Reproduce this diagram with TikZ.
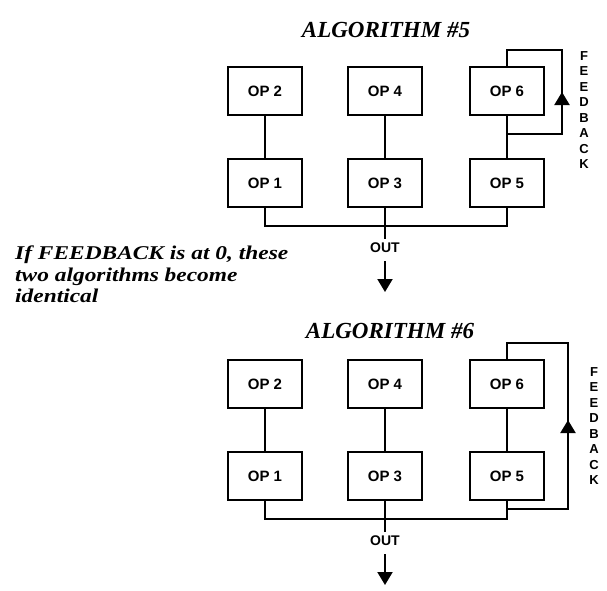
\documentclass[tikz,border=0pt]{standalone}
\usepackage{fontspec}
\setmainfont{Liberation Serif}
\setsansfont{Liberation Sans}
\newfontfamily\notefont{Liberation Serif}[FakeStretch=1.2]
\usetikzlibrary{arrows.meta, positioning, calc}

\begin{document}
\begin{tikzpicture}[x=1pt, y=-1pt,
  op/.style={draw, line width=1.4pt, minimum width=74pt, minimum height=48pt,
             inner sep=0pt, font=\sffamily\bfseries\fontsize{15}{18}\selectfont},
  wire/.style={line width=2pt, line join=miter},
  arr/.style={-{Triangle[length=13pt,width=15pt]}, line width=2pt},
  ttl/.style={anchor=base, inner sep=0pt, font=\bfseries\itshape\fontsize{23}{26}\selectfont},
  fb/.style={anchor=north, align=center, inner sep=0pt,
             font=\sffamily\bfseries\fontsize{13}{15.5}\selectfont},
  outl/.style={inner sep=1pt, font=\sffamily\bfseries\fontsize{14}{16}\selectfont},
  note/.style={anchor=north west, align=left, inner sep=0pt,
               font=\notefont\bfseries\itshape\fontsize{19.5}{21.5}\selectfont}
]
\useasboundingbox (0,0) rectangle (607,590);

% ALGORITHM #5
\node[ttl] (t5) at (386,37) {ALGORITHM \#5};
\node[op] (a2) at (265,91)  {OP 2};
\node[op] (a4) at (385,91)  {OP 4};
\node[op] (a6) at (507,91)  {OP 6};
\node[op] (a1) at (265,183) {OP 1};
\node[op] (a3) at (385,183) {OP 3};
\node[op] (a5) at (507,183) {OP 5};
\coordinate (o5) at (385,226);
\node[outl] (out5) at (385,248) {OUT};
\coordinate (e5) at (385,292);
\coordinate (f5a) at (507,134);
\coordinate (f5b) at (562,134);
\coordinate (f5c) at (562,50);
\coordinate (f5d) at (507,50);
\coordinate (k5) at (562,92);
\node[fb] (fb5) at (584,51) {F\\E\\E\\D\\B\\A\\C\\K};

\draw[wire] (a2)--(a1);
\draw[wire] (a4)--(a3);
\draw[wire] (a6)--(a5);
\draw[wire] (a1) |- (o5) -| (a5);
\draw[wire, shorten >=3pt] (a3)--(out5);
\draw[arr, shorten <=7pt] (out5)--(e5);
\draw[wire] (f5a)--(f5b)--(f5c)--(f5d)--(a6);
\draw[arr] (f5b)--(k5);

% note
\node[note] (nt) at (15,246) {If FEEDBACK is at 0, these\\two algorithms become\\identical};

% ALGORITHM #6
\node[ttl] (t6) at (390,338) {ALGORITHM \#6};
\node[op] (b2) at (265,384) {OP 2};
\node[op] (b4) at (385,384) {OP 4};
\node[op] (b6) at (507,384) {OP 6};
\node[op] (b1) at (265,476) {OP 1};
\node[op] (b3) at (385,476) {OP 3};
\node[op] (b5) at (507,476) {OP 5};
\coordinate (o6) at (385,519);
\node[outl] (out6) at (385,541) {OUT};
\coordinate (e6) at (385,585);
\coordinate (f6a) at (507,509);
\coordinate (f6b) at (568,509);
\coordinate (f6c) at (568,343);
\coordinate (f6d) at (507,343);
\coordinate (k6) at (568,420);
\node[fb] (fb6) at (594,367) {F\\E\\E\\D\\B\\A\\C\\K};

\draw[wire] (b2)--(b1);
\draw[wire] (b4)--(b3);
\draw[wire] (b6)--(b5);
\draw[wire] (b1) |- (o6) -| (b5);
\draw[wire, shorten >=3pt] (b3)--(out6);
\draw[arr, shorten <=7pt] (out6)--(e6);
\draw[wire] (f6a)--(f6b)--(f6c)--(f6d)--(b6);
\draw[arr] (f6b)--(k6);
\end{tikzpicture}
\end{document}
